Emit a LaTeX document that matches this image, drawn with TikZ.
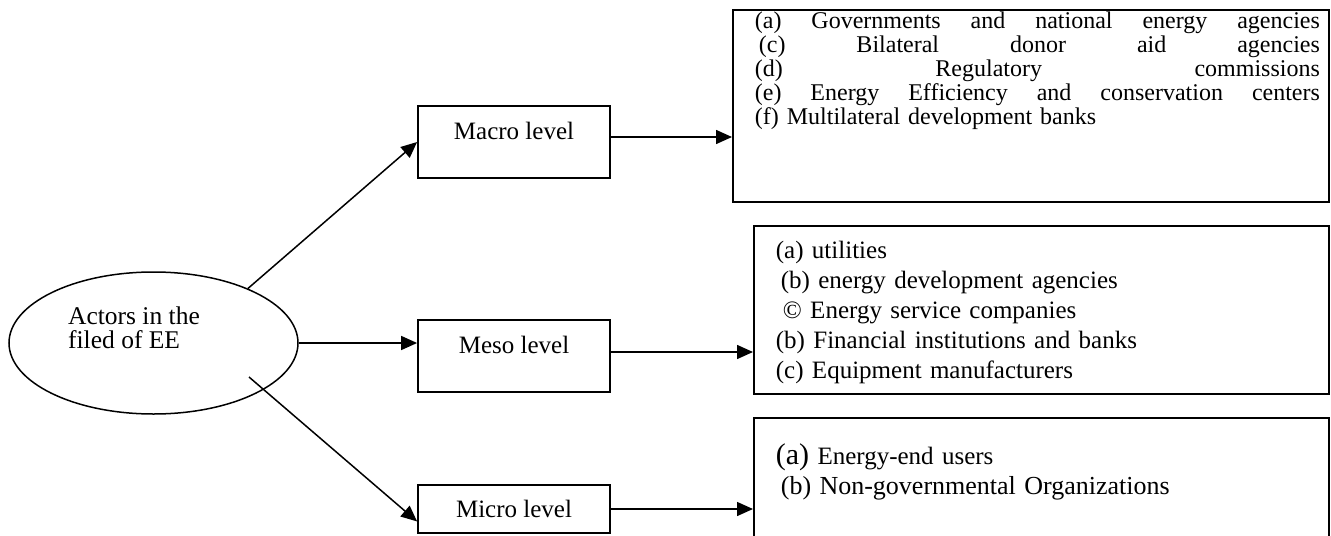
\documentclass[tikz,border=0pt]{standalone}
\usepackage{fontspec}
\setmainfont{Liberation Serif}
\usetikzlibrary{arrows.meta,positioning,calc,shapes.geometric}

\begin{document}
\begin{tikzpicture}[x=0.5pt,y=-0.5pt,>={Triangle[length=8pt,width=7pt]},font=\fontsize{12.5}{14}\selectfont]
\tikzset{levelbox/.style={draw,line width=0.9pt,minimum width=96pt,minimum height=36pt,inner sep=0pt},
         raised/.style={text height=8.5pt,text depth=11pt},
         listbox/.style={draw,line width=0.9pt,anchor=north west,align=left,inner sep=0pt},
         link/.style={->,line width=0.75pt}}
\useasboundingbox (0,0) rectangle (1331,535);
\clip (0,0) rectangle (1331,535);
% the actors
\node[ellipse,draw,line width=0.75pt,minimum width=144.5pt,minimum height=71pt] (actors) at (153.5,343) {};
\node[align=left,font=\fontsize{12.75}{12}\selectfont] (actorstext) at (134,328) {Actors in the\\filed of EE};
% the three levels
\node[levelbox,raised] (macro) at (514,142) {Macro level};
\node[levelbox,raised] (meso) at (514,356) {Meso level};
\node[levelbox,minimum height=24pt] (micro) at (514,509) {Micro level};
% what sits on each level
\node[listbox,text width=298pt,text height=9.5pt,text depth=86.5pt,font=\fontsize{12}{10.25}\selectfont] (macrolist) at (732,9) {%
\hspace*{11pt}\hbox to 282.5pt{(a)\hfill Governments\hfill and\hfill national\hfill energy\hfill agencies}\\
\hspace*{13pt}\hbox to 280.5pt{(c)\hfill Bilateral\hfill donor\hfill aid\hfill agencies}\\
\hspace*{11pt}\hbox to 282.5pt{(d)\hfill Regulatory\hfill commissions}\\
\hspace*{11pt}\hbox to 282.5pt{(e)\hfill Energy\hfill Efficiency\hfill and\hfill conservation\hfill centers}\\
\hspace*{11pt}(f) Multilateral development banks};
\node[listbox,text width=287.5pt,text height=16.5pt,text depth=67.5pt,font=\fontsize{12.5}{15}\selectfont] (mesolist) at (753,225) {%
\hspace*{11pt}(a) utilities\\
\hspace*{13.5pt}(b) energy development agencies\\
\hspace*{14.5pt}© Energy service companies\\
\hspace*{11pt}(b) Financial institutions and banks\\
\hspace*{11pt}(c) Equipment manufacturers};
\node[listbox,text width=287.5pt,text height=23.5pt,text depth=40.5pt,font=\fontsize{12.5}{15}\selectfont] (microlist) at (753,417) {%
\hspace*{11pt}{\fontsize{15}{15}\selectfont(a)} Energy-end users\\
\hspace*{13.5pt}{\fontsize{13}{15}\selectfont(b) Non-governmental Organizations}};
% connectors
\coordinate (microstart) at (249,377);
\draw[link] (actors.30) -- (macro.west);
\draw[link] (actors.east) -- (actors.east -| meso.west);
\draw[link] (microstart) -- ($(micro.south west)!0.25!(micro.north west)$);
\draw[link] ([yshift=2.5pt]macro.east) -- ([yshift=2.5pt]macro.east -| macrolist.west);
\draw[link] ([yshift=2pt]meso.east) -- ([yshift=2pt]meso.east -| mesolist.west);
\draw[link] (micro.east) -- (micro.east -| microlist.west);
\end{tikzpicture}
\end{document}
